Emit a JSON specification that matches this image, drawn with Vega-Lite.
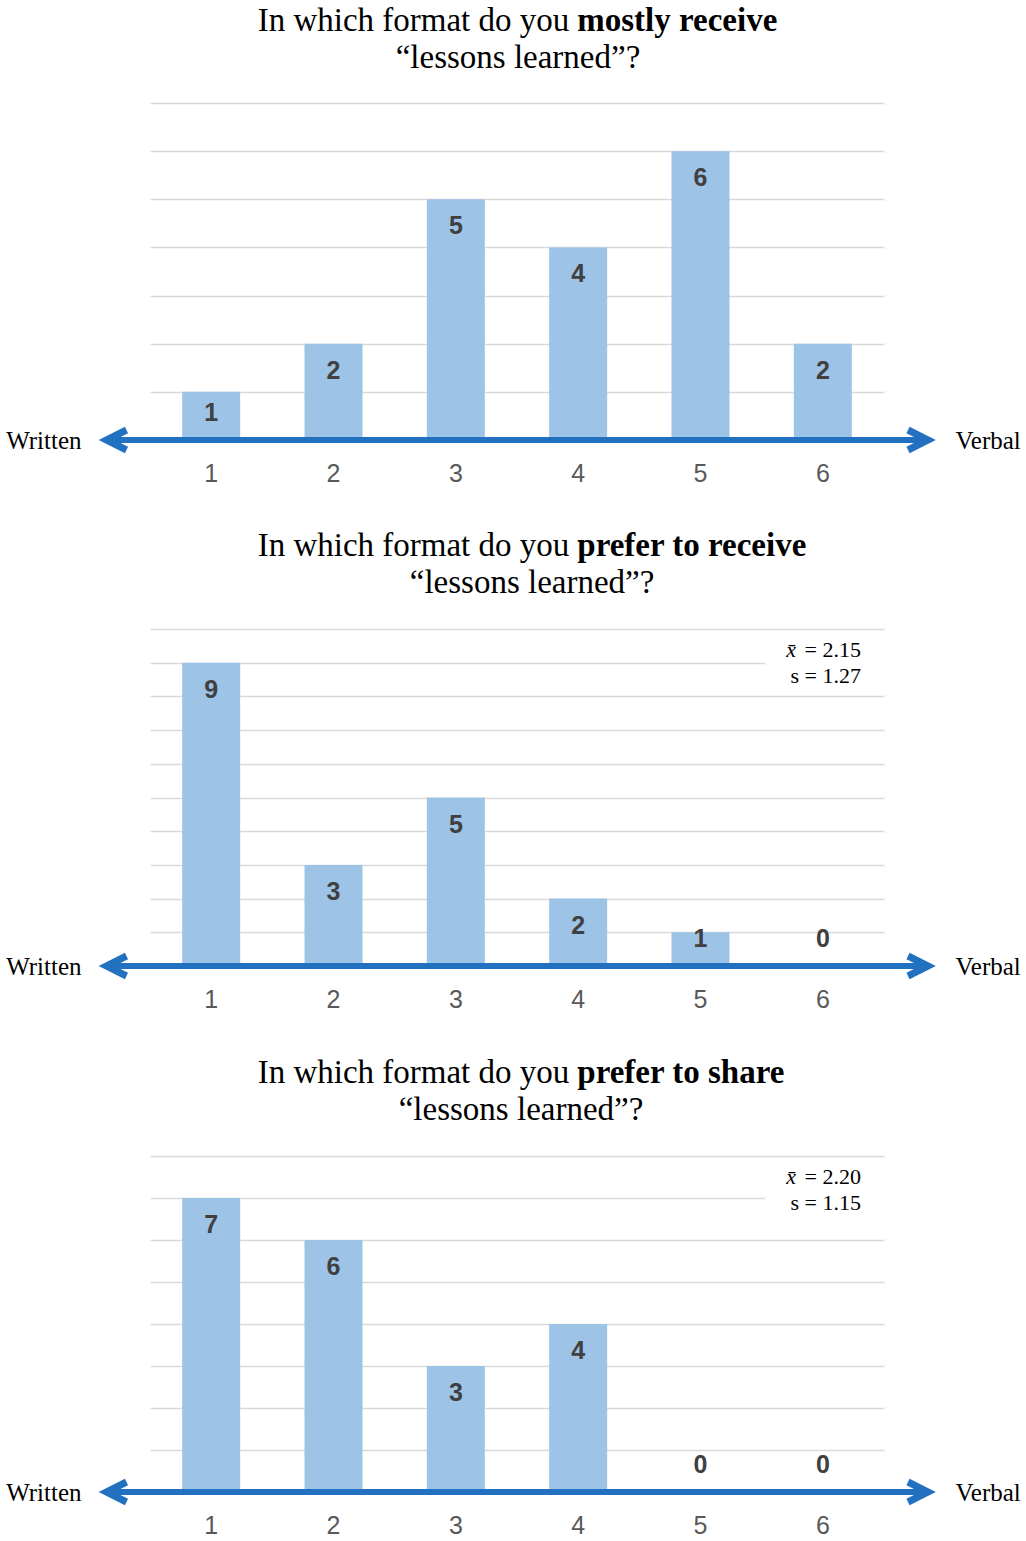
{
  "$schema": "https://vega.github.io/schema/vega-lite/v6.json",
  "background": "white",
  "padding": {"left": 5, "top": 4, "right": 0, "bottom": 0},
  "spacing": 43,
  "config": {"view": {"stroke": null}},
  "vconcat": [
    {
      "width": 734, "height": 337,
      "data": {"values": [
        {"rating": 1, "count": 1}, {"rating": 2, "count": 2}, {"rating": 3, "count": 5},
        {"rating": 4, "count": 4}, {"rating": 5, "count": 6}, {"rating": 6, "count": 2}
      ]},
      "resolve": {"axis": {"y": "independent"}},
      "layer": [
        {
          "mark": {"type": "bar", "size": 58, "color": "#9DC3E6", "orient": "vertical"},
          "encoding": {
            "x": {"field": "rating", "type": "quantitative", "scale": {"domain": [0.5, 6.5], "nice": false, "zero": false, "padding": 0}, "axis": null},
            "y": {"field": "count", "type": "quantitative", "scale": {"domain": [0, 7], "nice": false},
              "axis": {"values": [0, 1, 2, 3, 4, 5, 6, 7], "labels": false, "ticks": false, "domain": false, "grid": true, "gridColor": "#D9D9D9", "gridWidth": 1.5, "title": "Written", "titleAngle": 0, "titleAlign": "right", "titleBaseline": "middle", "titleX": -69, "titleY": 337, "titleFont": "Liberation Serif", "titleFontSize": 25, "titleFontWeight": "normal", "titleColor": "#000000"}}
          }
        },
        {
          "mark": {"type": "text", "font": "Liberation Sans", "fontSize": 25, "color": "#595959", "baseline": "middle", "dy": 34},
          "encoding": {
            "x": {"field": "rating", "type": "quantitative", "axis": null},
            "y": {"datum": 0, "type": "quantitative", "axis": null},
            "text": {"field": "rating"}
          }
        },
        {
          "transform": [{"filter": "datum.count >= 2"}],
          "mark": {"type": "text", "font": "Liberation Sans", "fontSize": 25, "fontWeight": "bold", "color": "#404040", "baseline": "middle", "dy": 27},
          "encoding": {
            "x": {"field": "rating", "type": "quantitative", "axis": null},
            "y": {"field": "count", "type": "quantitative",
              "axis": {"orient": "right", "labels": false, "ticks": false, "domain": false, "grid": false, "title": "Verbal", "titleAngle": 0, "titleAlign": "left", "titleBaseline": "middle", "titleX": 71, "titleY": 337, "titleFont": "Liberation Serif", "titleFontSize": 25, "titleFontWeight": "normal", "titleColor": "#000000"}},
            "text": {"field": "count"}
          }
        },
        {
          "transform": [{"filter": "datum.count <= 1"}],
          "mark": {"type": "text", "font": "Liberation Sans", "fontSize": 25, "fontWeight": "bold", "color": "#404040", "baseline": "middle", "dy": -27},
          "encoding": {
            "x": {"field": "rating", "type": "quantitative", "axis": null},
            "y": {"datum": 0, "type": "quantitative", "axis": null},
            "text": {"field": "count"}
          }
        },
        {
          "data": {"values": [{}]},
          "mark": {"type": "rule", "color": "#2271C0", "strokeWidth": 6},
          "encoding": {
            "x": {"datum": 0.15, "type": "quantitative", "axis": null},
            "x2": {"datum": 6.86},
            "y": {"datum": 0, "type": "quantitative", "axis": null}
          }
        },
        {
          "data": {"values": [{}]},
          "mark": {"type": "point", "shape": "M1,-1L-1,0L1,1", "size": 400, "filled": false, "stroke": "#2271C0", "strokeWidth": 7, "strokeJoin": "miter", "strokeCap": "butt", "opacity": 1},
          "encoding": {
            "x": {"datum": 0.226, "type": "quantitative", "axis": null},
            "y": {"datum": 0, "type": "quantitative", "axis": null}
          }
        },
        {
          "data": {"values": [{}]},
          "mark": {"type": "point", "shape": "M-1,-1L1,0L-1,1", "size": 400, "filled": false, "stroke": "#2271C0", "strokeWidth": 7, "strokeJoin": "miter", "strokeCap": "butt", "opacity": 1},
          "encoding": {
            "x": {"datum": 6.778, "type": "quantitative", "axis": null},
            "y": {"datum": 0, "type": "quantitative", "axis": null}
          }
        },
        {
          "data": {"values": [{}]},
          "mark": {"type": "text", "text": "In which format do you", "font": "Liberation Serif", "fontSize": 33, "align": "right", "baseline": "alphabetic", "dx": -4, "color": "#000000"},
          "encoding": {
            "x": {"datum": 3.96, "type": "quantitative", "axis": null},
            "y": {"datum": 8.496, "type": "quantitative", "axis": null}
          }
        },
        {
          "data": {"values": [{}]},
          "mark": {"type": "text", "text": "mostly receive", "font": "Liberation Serif", "fontSize": 33, "fontWeight": "bold", "align": "left", "baseline": "alphabetic", "dx": 4, "color": "#000000"},
          "encoding": {
            "x": {"datum": 3.96, "type": "quantitative", "axis": null},
            "y": {"datum": 8.496, "type": "quantitative", "axis": null}
          }
        },
        {
          "data": {"values": [{}]},
          "mark": {"type": "text", "text": "“lessons learned”?", "font": "Liberation Serif", "fontSize": 33, "align": "center", "baseline": "alphabetic", "color": "#000000"},
          "encoding": {
            "x": {"datum": 3.508, "type": "quantitative", "axis": null},
            "y": {"datum": 7.728, "type": "quantitative", "axis": null}
          }
        }
      ]
    },
    {
      "width": 734, "height": 337,
      "data": {"values": [
        {"rating": 1, "count": 9}, {"rating": 2, "count": 3}, {"rating": 3, "count": 5},
        {"rating": 4, "count": 2}, {"rating": 5, "count": 1}, {"rating": 6, "count": 0}
      ]},
      "resolve": {"axis": {"y": "independent"}},
      "layer": [
        {
          "mark": {"type": "bar", "size": 58, "color": "#9DC3E6", "orient": "vertical"},
          "encoding": {
            "x": {"field": "rating", "type": "quantitative", "scale": {"domain": [0.5, 6.5], "nice": false, "zero": false, "padding": 0}, "axis": null},
            "y": {"field": "count", "type": "quantitative", "scale": {"domain": [0, 10], "nice": false},
              "axis": {"values": [0, 1, 2, 3, 4, 5, 6, 7, 8, 9, 10], "labels": false, "ticks": false, "domain": false, "grid": true, "gridColor": "#D9D9D9", "gridWidth": 1.5, "title": "Written", "titleAngle": 0, "titleAlign": "right", "titleBaseline": "middle", "titleX": -69, "titleY": 337, "titleFont": "Liberation Serif", "titleFontSize": 25, "titleFontWeight": "normal", "titleColor": "#000000"}}
          }
        },
        {
          "mark": {"type": "text", "font": "Liberation Sans", "fontSize": 25, "color": "#595959", "baseline": "middle", "dy": 34},
          "encoding": {
            "x": {"field": "rating", "type": "quantitative", "axis": null},
            "y": {"datum": 0, "type": "quantitative", "axis": null},
            "text": {"field": "rating"}
          }
        },
        {
          "data": {"values": [{}]},
          "mark": {"type": "rect", "fill": "white"},
          "encoding": {
            "x": {"datum": 5.527, "type": "quantitative", "axis": null},
            "x2": {"datum": 6.55},
            "y": {"datum": 8.3, "type": "quantitative", "axis": null},
            "y2": {"datum": 9.7}
          }
        },
        {
          "transform": [{"filter": "datum.count >= 2"}],
          "mark": {"type": "text", "font": "Liberation Sans", "fontSize": 25, "fontWeight": "bold", "color": "#404040", "baseline": "middle", "dy": 27},
          "encoding": {
            "x": {"field": "rating", "type": "quantitative", "axis": null},
            "y": {"field": "count", "type": "quantitative",
              "axis": {"orient": "right", "labels": false, "ticks": false, "domain": false, "grid": false, "title": "Verbal", "titleAngle": 0, "titleAlign": "left", "titleBaseline": "middle", "titleX": 71, "titleY": 337, "titleFont": "Liberation Serif", "titleFontSize": 25, "titleFontWeight": "normal", "titleColor": "#000000"}},
            "text": {"field": "count"}
          }
        },
        {
          "transform": [{"filter": "datum.count <= 1"}],
          "mark": {"type": "text", "font": "Liberation Sans", "fontSize": 25, "fontWeight": "bold", "color": "#404040", "baseline": "middle", "dy": -27},
          "encoding": {
            "x": {"field": "rating", "type": "quantitative", "axis": null},
            "y": {"datum": 0, "type": "quantitative", "axis": null},
            "text": {"field": "count"}
          }
        },
        {
          "data": {"values": [{}]},
          "mark": {"type": "rule", "color": "#2271C0", "strokeWidth": 6},
          "encoding": {
            "x": {"datum": 0.15, "type": "quantitative", "axis": null},
            "x2": {"datum": 6.86},
            "y": {"datum": 0, "type": "quantitative", "axis": null}
          }
        },
        {
          "data": {"values": [{}]},
          "mark": {"type": "point", "shape": "M1,-1L-1,0L1,1", "size": 400, "filled": false, "stroke": "#2271C0", "strokeWidth": 7, "strokeJoin": "miter", "strokeCap": "butt", "opacity": 1},
          "encoding": {
            "x": {"datum": 0.226, "type": "quantitative", "axis": null},
            "y": {"datum": 0, "type": "quantitative", "axis": null}
          }
        },
        {
          "data": {"values": [{}]},
          "mark": {"type": "point", "shape": "M-1,-1L1,0L-1,1", "size": 400, "filled": false, "stroke": "#2271C0", "strokeWidth": 7, "strokeJoin": "miter", "strokeCap": "butt", "opacity": 1},
          "encoding": {
            "x": {"datum": 6.778, "type": "quantitative", "axis": null},
            "y": {"datum": 0, "type": "quantitative", "axis": null}
          }
        },
        {
          "data": {"values": [{}]},
          "mark": {"type": "text", "text": "In which format do you", "font": "Liberation Serif", "fontSize": 33, "align": "right", "baseline": "alphabetic", "dx": -4, "color": "#000000"},
          "encoding": {
            "x": {"datum": 3.96, "type": "quantitative", "axis": null},
            "y": {"datum": 12.166, "type": "quantitative", "axis": null}
          }
        },
        {
          "data": {"values": [{}]},
          "mark": {"type": "text", "text": "prefer to receive", "font": "Liberation Serif", "fontSize": 33, "fontWeight": "bold", "align": "left", "baseline": "alphabetic", "dx": 4, "color": "#000000"},
          "encoding": {
            "x": {"datum": 3.96, "type": "quantitative", "axis": null},
            "y": {"datum": 12.166, "type": "quantitative", "axis": null}
          }
        },
        {
          "data": {"values": [{}]},
          "mark": {"type": "text", "text": "“lessons learned”?", "font": "Liberation Serif", "fontSize": 33, "align": "center", "baseline": "alphabetic", "color": "#000000"},
          "encoding": {
            "x": {"datum": 3.623, "type": "quantitative", "axis": null},
            "y": {"datum": 11.068, "type": "quantitative", "axis": null}
          }
        },
        {
          "data": {"values": [{}]},
          "mark": {"type": "text", "text": "x̄", "font": "Liberation Serif", "fontSize": 22, "fontStyle": "italic", "align": "right", "baseline": "alphabetic", "color": "#000000"},
          "encoding": {
            "x": {"datum": 5.78, "type": "quantitative", "axis": null},
            "y": {"datum": 9.18, "type": "quantitative", "axis": null}
          }
        },
        {
          "data": {"values": [{}]},
          "mark": {"type": "text", "text": "= 2.15", "font": "Liberation Serif", "fontSize": 22, "align": "right", "baseline": "alphabetic", "color": "#000000"},
          "encoding": {
            "x": {"datum": 6.312, "type": "quantitative", "axis": null},
            "y": {"datum": 9.18, "type": "quantitative", "axis": null}
          }
        },
        {
          "data": {"values": [{}]},
          "mark": {"type": "text", "text": "s = 1.27", "font": "Liberation Serif", "fontSize": 22, "align": "right", "baseline": "alphabetic", "color": "#000000"},
          "encoding": {
            "x": {"datum": 6.312, "type": "quantitative", "axis": null},
            "y": {"datum": 8.405, "type": "quantitative", "axis": null}
          }
        }
      ]
    },
    {
      "width": 734, "height": 336,
      "data": {"values": [
        {"rating": 1, "count": 7}, {"rating": 2, "count": 6}, {"rating": 3, "count": 3},
        {"rating": 4, "count": 4}, {"rating": 5, "count": 0}, {"rating": 6, "count": 0}
      ]},
      "resolve": {"axis": {"y": "independent"}},
      "layer": [
        {
          "mark": {"type": "bar", "size": 58, "color": "#9DC3E6", "orient": "vertical"},
          "encoding": {
            "x": {"field": "rating", "type": "quantitative", "scale": {"domain": [0.5, 6.5], "nice": false, "zero": false, "padding": 0}, "axis": null},
            "y": {"field": "count", "type": "quantitative", "scale": {"domain": [0, 8], "nice": false},
              "axis": {"values": [0, 1, 2, 3, 4, 5, 6, 7, 8], "labels": false, "ticks": false, "domain": false, "grid": true, "gridColor": "#D9D9D9", "gridWidth": 1.5, "title": "Written", "titleAngle": 0, "titleAlign": "right", "titleBaseline": "middle", "titleX": -69, "titleY": 336, "titleFont": "Liberation Serif", "titleFontSize": 25, "titleFontWeight": "normal", "titleColor": "#000000"}}
          }
        },
        {
          "mark": {"type": "text", "font": "Liberation Sans", "fontSize": 25, "color": "#595959", "baseline": "middle", "dy": 34},
          "encoding": {
            "x": {"field": "rating", "type": "quantitative", "axis": null},
            "y": {"datum": 0, "type": "quantitative", "axis": null},
            "text": {"field": "rating"}
          }
        },
        {
          "data": {"values": [{}]},
          "mark": {"type": "rect", "fill": "white"},
          "encoding": {
            "x": {"datum": 5.527, "type": "quantitative", "axis": null},
            "x2": {"datum": 6.55},
            "y": {"datum": 6.4, "type": "quantitative", "axis": null},
            "y2": {"datum": 7.6}
          }
        },
        {
          "transform": [{"filter": "datum.count >= 2"}],
          "mark": {"type": "text", "font": "Liberation Sans", "fontSize": 25, "fontWeight": "bold", "color": "#404040", "baseline": "middle", "dy": 27},
          "encoding": {
            "x": {"field": "rating", "type": "quantitative", "axis": null},
            "y": {"field": "count", "type": "quantitative",
              "axis": {"orient": "right", "labels": false, "ticks": false, "domain": false, "grid": false, "title": "Verbal", "titleAngle": 0, "titleAlign": "left", "titleBaseline": "middle", "titleX": 71, "titleY": 336, "titleFont": "Liberation Serif", "titleFontSize": 25, "titleFontWeight": "normal", "titleColor": "#000000"}},
            "text": {"field": "count"}
          }
        },
        {
          "transform": [{"filter": "datum.count <= 1"}],
          "mark": {"type": "text", "font": "Liberation Sans", "fontSize": 25, "fontWeight": "bold", "color": "#404040", "baseline": "middle", "dy": -27},
          "encoding": {
            "x": {"field": "rating", "type": "quantitative", "axis": null},
            "y": {"datum": 0, "type": "quantitative", "axis": null},
            "text": {"field": "count"}
          }
        },
        {
          "data": {"values": [{}]},
          "mark": {"type": "rule", "color": "#2271C0", "strokeWidth": 6},
          "encoding": {
            "x": {"datum": 0.15, "type": "quantitative", "axis": null},
            "x2": {"datum": 6.86},
            "y": {"datum": 0, "type": "quantitative", "axis": null}
          }
        },
        {
          "data": {"values": [{}]},
          "mark": {"type": "point", "shape": "M1,-1L-1,0L1,1", "size": 400, "filled": false, "stroke": "#2271C0", "strokeWidth": 7, "strokeJoin": "miter", "strokeCap": "butt", "opacity": 1},
          "encoding": {
            "x": {"datum": 0.226, "type": "quantitative", "axis": null},
            "y": {"datum": 0, "type": "quantitative", "axis": null}
          }
        },
        {
          "data": {"values": [{}]},
          "mark": {"type": "point", "shape": "M-1,-1L1,0L-1,1", "size": 400, "filled": false, "stroke": "#2271C0", "strokeWidth": 7, "strokeJoin": "miter", "strokeCap": "butt", "opacity": 1},
          "encoding": {
            "x": {"datum": 6.778, "type": "quantitative", "axis": null},
            "y": {"datum": 0, "type": "quantitative", "axis": null}
          }
        },
        {
          "data": {"values": [{}]},
          "mark": {"type": "text", "text": "In which format do you", "font": "Liberation Serif", "fontSize": 33, "align": "right", "baseline": "alphabetic", "dx": -4, "color": "#000000"},
          "encoding": {
            "x": {"datum": 3.96, "type": "quantitative", "axis": null},
            "y": {"datum": 9.739, "type": "quantitative", "axis": null}
          }
        },
        {
          "data": {"values": [{}]},
          "mark": {"type": "text", "text": "prefer to share", "font": "Liberation Serif", "fontSize": 33, "fontWeight": "bold", "align": "left", "baseline": "alphabetic", "dx": 4, "color": "#000000"},
          "encoding": {
            "x": {"datum": 3.96, "type": "quantitative", "axis": null},
            "y": {"datum": 9.739, "type": "quantitative", "axis": null}
          }
        },
        {
          "data": {"values": [{}]},
          "mark": {"type": "text", "text": "“lessons learned”?", "font": "Liberation Serif", "fontSize": 33, "align": "center", "baseline": "alphabetic", "color": "#000000"},
          "encoding": {
            "x": {"datum": 3.533, "type": "quantitative", "axis": null},
            "y": {"datum": 8.858, "type": "quantitative", "axis": null}
          }
        },
        {
          "data": {"values": [{}]},
          "mark": {"type": "text", "text": "x̄", "font": "Liberation Serif", "fontSize": 22, "fontStyle": "italic", "align": "right", "baseline": "alphabetic", "color": "#000000"},
          "encoding": {
            "x": {"datum": 5.78, "type": "quantitative", "axis": null},
            "y": {"datum": 7.333, "type": "quantitative", "axis": null}
          }
        },
        {
          "data": {"values": [{}]},
          "mark": {"type": "text", "text": "= 2.20", "font": "Liberation Serif", "fontSize": 22, "align": "right", "baseline": "alphabetic", "color": "#000000"},
          "encoding": {
            "x": {"datum": 6.312, "type": "quantitative", "axis": null},
            "y": {"datum": 7.333, "type": "quantitative", "axis": null}
          }
        },
        {
          "data": {"values": [{}]},
          "mark": {"type": "text", "text": "s = 1.15", "font": "Liberation Serif", "fontSize": 22, "align": "right", "baseline": "alphabetic", "color": "#000000"},
          "encoding": {
            "x": {"datum": 6.312, "type": "quantitative", "axis": null},
            "y": {"datum": 6.714, "type": "quantitative", "axis": null}
          }
        }
      ]
    }
  ]
}
